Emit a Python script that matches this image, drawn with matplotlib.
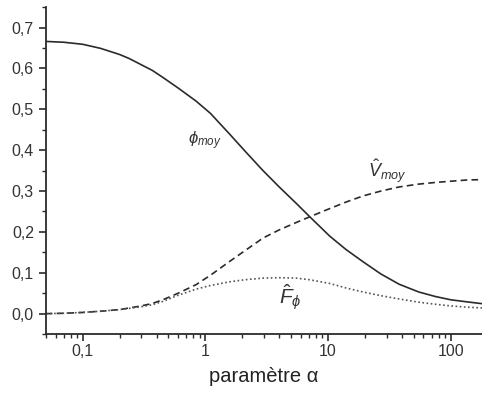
import matplotlib
matplotlib.use("Agg")
import matplotlib.pyplot as plt
from matplotlib.ticker import FuncFormatter, LogLocator, MultipleLocator

plt.rcParams['font.family'] = ['Liberation Sans', 'DejaVu Sans']
plt.rcParams['mathtext.fontset'] = 'custom'
plt.rcParams['mathtext.rm'] = 'Liberation Sans'
plt.rcParams['mathtext.it'] = 'Liberation Sans:italic'

# values
alpha = [0.05, 0.07, 0.1, 0.14, 0.2, 0.24, 0.3, 0.37, 0.45, 0.6, 0.84, 1.1,
         1.58, 2.1, 2.95, 4.0, 5.5, 7.1, 10.3, 14, 19.3, 27, 38, 55, 75,
         100, 135, 180]
phi_moy = [0.666, 0.664, 0.659, 0.649, 0.634, 0.624, 0.609, 0.595, 0.578,
           0.552, 0.520, 0.490, 0.439, 0.398, 0.350, 0.310, 0.270, 0.237,
           0.190, 0.157, 0.127, 0.097, 0.072, 0.053, 0.042, 0.034, 0.029,
           0.0245]
v_moy = [0.0, 0.001, 0.003, 0.006, 0.010, 0.014, 0.019, 0.025, 0.034, 0.050,
         0.071, 0.094, 0.128, 0.154, 0.185, 0.205, 0.223, 0.237, 0.257, 0.273,
         0.288, 0.300, 0.310, 0.317, 0.321, 0.324, 0.327, 0.328]
f_phi = [0.0, 0.001, 0.003, 0.006, 0.010, 0.013, 0.017, 0.022, 0.030, 0.045,
         0.060, 0.069, 0.078, 0.083, 0.087, 0.088, 0.087, 0.083, 0.074, 0.063,
         0.053, 0.044, 0.036, 0.028, 0.023, 0.019, 0.016, 0.014]

fig = plt.figure(figsize=(4.82, 3.94), dpi=100)
ax = fig.add_axes([0.095, 0.152, 0.905, 0.83])

col = '#2b2b2b'
ax.plot(alpha, phi_moy, color=col, lw=1.2, ls='-')
ax.plot(alpha, v_moy, color=col, lw=1.2, ls=(0, (4, 2.5)))
ax.plot(alpha, f_phi, color='#555555', lw=1.2, ls=(0, (1, 1.5)))

ax.set_xscale('log')
ax.set_xlim(0.05, 180)
ax.set_ylim(-0.05, 0.75)

ax.spines['top'].set_visible(False)
ax.spines['right'].set_visible(False)
for s in ('left', 'bottom'):
    ax.spines[s].set_linewidth(1.3)
    ax.spines[s].set_color(col)

ax.set_yticks([0.0, 0.1, 0.2, 0.3, 0.4, 0.5, 0.6, 0.7])
ax.yaxis.set_minor_locator(MultipleLocator(0.05))
ax.yaxis.set_major_formatter(FuncFormatter(lambda v, p: f"{v:.1f}".replace('.', ',')))
ax.set_xticks([0.1, 1, 10, 100])
ax.xaxis.set_major_formatter(FuncFormatter(lambda v, p: f"{v:g}".replace('.', ',')))
ax.xaxis.set_minor_locator(LogLocator(base=10, subs=range(2, 10)))
ax.xaxis.set_minor_formatter(FuncFormatter(lambda v, p: ''))

ax.tick_params(which='major', direction='out', length=5, width=1.2,
               labelsize=11.5, colors=col, labelcolor='#333333')
ax.tick_params(axis='x', which='major', pad=2)
ax.tick_params(which='minor', direction='out', length=3, width=1.0, colors=col)

ax.set_xlabel('paramètre α', fontsize=14.5, color='#222222', labelpad=6)

ax.text(0.72, 0.415, r'$\phi_{moy}$', fontsize=12, color='#333333')
ax.text(21, 0.335, r'$\hat{V}_{moy}$', fontsize=13, color='#333333')
ax.text(4.0, 0.022, r'$\hat{F}_{\phi}$', fontsize=15, color='#333333')

fig.savefig('out.png', dpi=100)
